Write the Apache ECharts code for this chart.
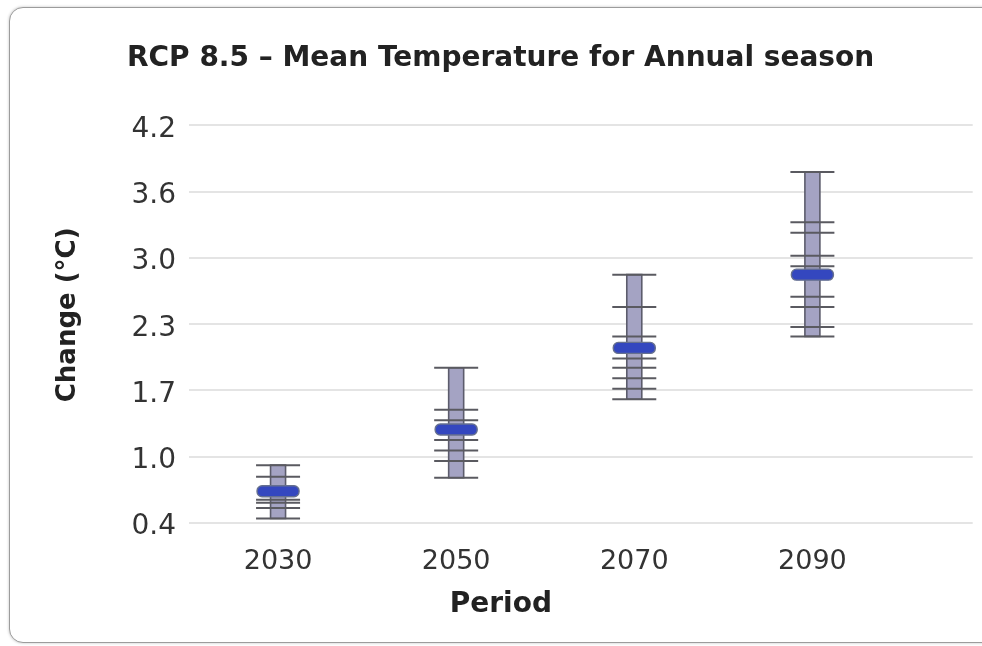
<!DOCTYPE html>
<html>
<head>
<meta charset="utf-8">
<script src="https://cdn.jsdelivr.net/npm/echarts@6/dist/echarts.min.js"></script>
<style>
  html, body { margin: 0; padding: 0; background: #fff; overflow: hidden; }
  #card {
    position: absolute; left: 9px; top: 7px; width: 1020px; height: 634px;
    border: 1.5px solid #9c9c9c; border-radius: 14px; background: #fff;
    box-shadow: 0 0 3px rgba(0,0,0,0.25);
  }
  #chart { position: absolute; left: 0; top: 0; width: 982px; height: 646px; }
</style>
</head>
<body>
<div id="card"></div>
<div id="chart"></div>
<script>
// Projection periods
const periods = [2030, 2050, 2070, 2090];
// Ensemble range (lowest / highest model) per period, °C
const rangeLow  = [0.44, 0.83, 1.58, 2.18];
const rangeHigh = [0.95, 1.88, 2.77, 3.75];
// Ensemble median per period, °C
const medians   = [0.70, 1.29, 2.07, 2.77];
// Individual model values per period, °C
const modelValues = [
  [0.95, 0.84, 0.62, 0.59, 0.54, 0.44],
  [1.88, 1.48, 1.38, 1.19, 1.09, 0.99, 0.83],
  [2.77, 2.46, 2.18, 1.97, 1.88, 1.78, 1.68, 1.58],
  [3.75, 3.27, 3.17, 2.95, 2.85, 2.56, 2.46, 2.27, 2.18]
];
// Y axis tick values and their printed labels
const yTickValues = [0.4, 1.0333, 1.6667, 2.3, 2.9333, 3.5667, 4.2];
const yTickLabels = ['0.4', '1.0', '1.7', '2.3', '3.0', '3.6', '4.2'];

const FONT = 'DejaVu Sans';
const chart = echarts.init(document.getElementById('chart'), null, { renderer: 'canvas' });

const seriesData = periods.map((p, i) => [p, rangeLow[i], rangeHigh[i], medians[i]]);

function renderBox(params, api) {
  const i = params.dataIndex;
  const x = api.value(0);
  const lo = api.coord([x, api.value(1)]);
  const hi = api.coord([x, api.value(2)]);
  const md = api.coord([x, api.value(3)]);
  const cx = lo[0];
  const children = [];
  children.push({
    type: 'rect',
    shape: { x: cx - 7.5, y: hi[1], width: 15, height: lo[1] - hi[1] },
    style: { fill: '#a4a3c3', stroke: '#5c5c6c', lineWidth: 1.6 }
  });
  modelValues[i].forEach(v => {
    const pt = api.coord([x, v]);
    children.push({
      type: 'line',
      shape: { x1: cx - 22, y1: pt[1], x2: cx + 22, y2: pt[1] },
      style: { stroke: '#5a5a60', lineWidth: 2 }
    });
  });
  children.push({
    type: 'rect',
    shape: { x: cx - 21, y: md[1] - 5.5, width: 42, height: 11, r: 5 },
    style: { fill: '#3447bf', stroke: '#66708f', lineWidth: 1.4 }
  });
  return { type: 'group', children };
}

chart.setOption({
  animation: false,
  title: {
    text: 'RCP 8.5 – Mean Temperature for Annual season',
    left: 122, top: 40,
    textStyle: { fontFamily: FONT, fontWeight: 'bold', fontSize: 28, color: '#222' }
  },
  grid: { left: 189, right: 9.3, top: 125, bottom: 123.3, containLabel: false },
  xAxis: {
    type: 'value', min: 2020, max: 2108,
    name: 'Period', nameLocation: 'middle', nameGap: 68,
    nameTextStyle: { fontFamily: FONT, fontWeight: 'bold', fontSize: 28, color: '#222', padding: [0, 160, 0, 0] },
    axisLine: { show: false }, axisTick: { show: false },
    splitLine: { show: false },
    axisLabel: {
      customValues: periods, margin: 26,
      fontFamily: FONT, fontSize: 27, color: '#333',
      formatter: v => String(v)
    }
  },
  yAxis: {
    type: 'value', min: 0.4, max: 4.2,
    name: 'Change (°C)', nameLocation: 'middle', nameGap: 108, nameRotate: 90,
    nameTextStyle: { fontFamily: FONT, fontWeight: 'bold', fontSize: 26, color: '#222', padding: [0, 0, 0, 18] },
    axisLine: { show: false },
    axisTick: { show: false, customValues: yTickValues },
    splitLine: { show: true, lineStyle: { color: '#e4e4e4', width: 2 } },
    axisLabel: {
      customValues: yTickValues, margin: 13,
      formatter: v => {
        let best = 0;
        yTickValues.forEach((t, k) => { if (Math.abs(t - v) < Math.abs(yTickValues[best] - v)) best = k; });
        return '{t|' + yTickLabels[best] + '}';
      },
      rich: {
        t: { fontFamily: FONT, fontSize: 28, color: '#333', padding: [9, 0, 0, 0] }
      }
    }
  },
  series: [{
    type: 'custom',
    renderItem: renderBox,
    encode: { x: 0, y: [1, 2, 3] },
    data: seriesData,
    clip: false
  }]
});
</script>
</body>
</html>
